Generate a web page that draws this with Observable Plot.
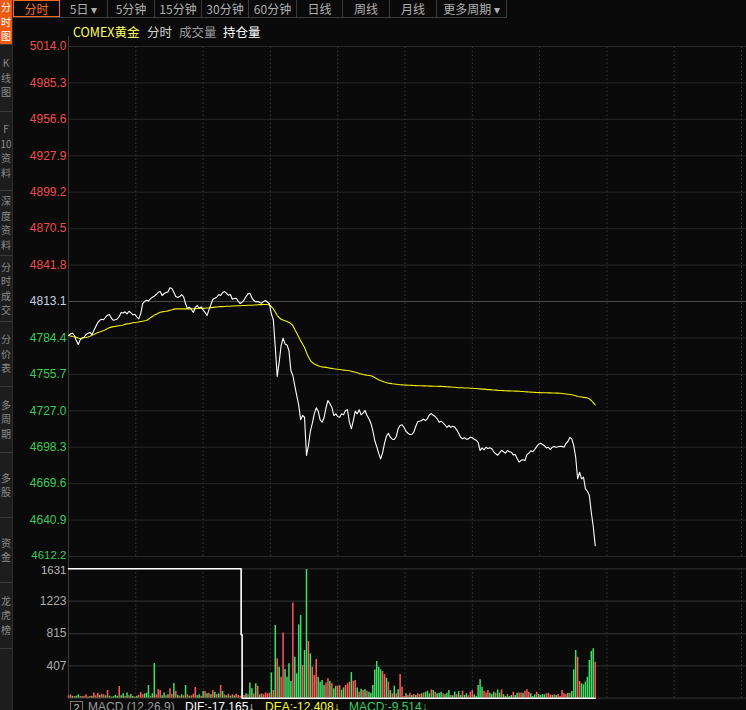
<!DOCTYPE html>
<html><head><meta charset="utf-8">
<script src="https://cdn.jsdelivr.net/npm/d3@7"></script>
<script src="https://cdn.jsdelivr.net/npm/@observablehq/plot@0.6"></script>
<style>
html,body{margin:0;padding:0;background:#0a0a0a;}
#root{position:relative;width:746px;height:710px;overflow:hidden;background:#0a0a0a;font-family:"Noto Sans CJK SC","Liberation Sans",sans-serif;}
#root svg{position:absolute;left:0;top:0;}
.side{position:absolute;left:0;top:0;width:12px;height:710px;background:#1d1d1d;border-right:1px solid #2c2c2c;overflow:hidden;}
.stab{position:absolute;left:0;width:12px;overflow:hidden;border-bottom:1px solid #3a3a3a;color:#8a8a8a;font-size:10px;display:flex;flex-direction:column;align-items:flex-start;justify-content:center;}
.stab div{line-height:14.5px;height:14.5px;margin-left:0;width:12px;text-align:center;overflow:hidden;}
.stab.on{background:#ee5a0e;color:#fff;}
.tab{position:absolute;top:0;height:17px;line-height:17px;font-size:12px;color:#b0b0b0;text-align:center;border-right:1px solid #3a3a3a;box-sizing:border-box;white-space:nowrap;}
.tab.on{color:#ff6a1a;border:1px solid #ff6a1a;line-height:15px;}
.tbline{position:absolute;left:13px;top:17px;width:494px;height:1px;background:#3a3a3a;}
.row2{position:absolute;top:23px;font-size:12.5px;line-height:17px;white-space:nowrap;}
.bot{position:absolute;top:700px;font-family:"Liberation Sans",sans-serif;font-size:12px;line-height:14px;white-space:nowrap;}
.box{position:absolute;left:70px;top:701px;width:11px;height:12px;border:1px solid #777;color:#bbb;font-family:"Liberation Sans",sans-serif;font-size:11px;line-height:12px;text-align:center;}
</style></head><body>
<div id="root"></div>
<script>
// ---------------- data ----------------
const stepMin = 4;           // minutes between samples
const sessionMinutes = 1380; // full COMEX session
const prevClose = 4813.1;

const price = [
4786.3,4787.6,4788.1,4786.3,4782.3,4779.2,4782.9,4784.5,4784.9,4787.1,
4788.1,4788.7,4787.1,4790.2,4793.4,4796.5,4798.3,4799.1,4798.7,4800.7,
4802.3,4802.8,4799.9,4798.3,4798.7,4799.4,4801.3,4804.4,4804.0,4805.0,
4803.4,4805.4,4804.2,4802.6,4803.0,4801.0,4799.4,4803.4,4811.3,4813.1,
4814.1,4813.6,4815.2,4816.5,4817.3,4818.6,4820.4,4820.9,4817.8,4819.4,
4820.2,4820.7,4823.9,4823.3,4820.4,4817.0,4816.2,4817.0,4818.4,4817.0,
4811.3,4807.6,4808.6,4806.8,4804.4,4808.6,4809.9,4807.8,4808.9,4806.5,
4804.6,4802.0,4806.5,4810.7,4814.9,4815.7,4816.5,4818.6,4817.8,4820.2,
4820.9,4819.6,4818.0,4818.6,4814.9,4815.4,4815.7,4813.3,4811.5,4812.5,
4814.4,4816.8,4819.1,4819.6,4816.0,4813.9,4812.8,4813.1,4812.3,4811.7,
4813.1,4813.9,4812.5,4811.3,4803.4,4798.7,4777.1,4754.0,4765.3,4778.4,
4784.2,4779.7,4778.9,4774.5,4758.7,4754.8,4746.9,4739.0,4731.7,4719.9,
4723.3,4721.9,4691.8,4699.6,4710.9,4717.2,4724.6,4729.3,4726.7,4719.9,
4718.0,4721.5,4729.3,4735.1,4732.5,4729.8,4723.3,4724.6,4722.5,4721.9,
4724.6,4723.8,4727.2,4727.8,4718.0,4712.8,4719.3,4726.7,4724.6,4727.8,
4723.8,4725.1,4727.2,4723.5,4720.7,4717.2,4711.4,4703.6,4698.8,4693.6,
4689.1,4693.9,4701.4,4707.0,4709.3,4706.2,4704.6,4704.4,4706.7,4713.0,
4715.4,4716.0,4713.8,4710.9,4709.3,4708.3,4708.5,4710.1,4714.6,4718.3,
4718.8,4719.4,4720.3,4719.3,4720.9,4723.8,4724.8,4723.5,4722.5,4720.7,
4718.0,4718.8,4717.5,4715.9,4714.0,4715.4,4714.0,4714.8,4714.0,4712.0,
4709.3,4706.2,4704.9,4705.7,4704.6,4704.9,4706.2,4705.8,4704.6,4703.8,
4702.2,4695.7,4697.8,4696.2,4698.3,4697.3,4697.8,4697.1,4694.7,4693.1,
4692.0,4693.9,4695.9,4694.7,4693.6,4695.7,4694.7,4694.4,4692.3,4692.5,
4689.4,4686.5,4688.0,4688.4,4687.8,4692.5,4693.6,4695.5,4694.7,4696.5,
4698.8,4700.7,4701.4,4700.4,4699.4,4697.8,4698.2,4696.5,4698.3,4698.8,
4698.3,4698.6,4699.1,4698.8,4698.3,4701.2,4702.8,4705.9,4704.9,4699.6,
4690.4,4673.4,4678.6,4673.4,4674.7,4665.5,4663.6,4660.2,4647.1,4635.8,4620.8
];

const avgPrice = [
4786.3,4785.9,4785.5,4785.3,4785.0,4784.3,4783.8,4784.1,4784.5,4784.8,
4785.2,4785.8,4786.6,4787.1,4787.8,4788.6,4789.1,4789.7,4790.2,4790.9,
4791.9,4792.5,4792.9,4793.3,4793.5,4793.8,4794.0,4794.2,4794.6,4795.1,
4795.5,4795.7,4796.0,4796.3,4796.5,4796.7,4797.0,4797.3,4797.6,4797.9,
4798.1,4799.1,4800.3,4801.3,4802.4,4803.0,4803.8,4804.6,4804.9,4805.2,
4805.4,4805.7,4806.2,4806.6,4807.1,4807.3,4807.3,4807.3,4807.3,4807.3,
4807.3,4807.3,4807.3,4807.4,4807.4,4807.5,4807.6,4807.6,4807.6,4807.7,
4807.8,4808.0,4808.1,4808.3,4808.5,4808.7,4808.8,4809.0,4809.1,4809.1,
4809.2,4809.3,4809.4,4809.4,4809.5,4809.6,4809.7,4809.8,4809.8,4809.9,
4809.9,4810.0,4810.1,4810.2,4810.2,4810.3,4810.4,4810.5,4810.6,4810.6,
4810.7,4810.7,4810.7,4810.3,4809.1,4807.3,4804.8,4802.0,4800.5,4799.0,
4798.5,4797.9,4797.3,4796.5,4795.7,4794.2,4791.0,4788.3,4785.1,4782.1,
4779.6,4776.8,4772.9,4769.3,4766.6,4765.0,4763.8,4763.1,4762.4,4761.9,
4761.6,4761.4,4761.2,4760.9,4760.6,4760.4,4760.1,4759.9,4759.7,4759.5,
4759.3,4759.0,4758.9,4758.7,4758.5,4758.1,4757.7,4757.3,4756.9,4756.3,
4756.0,4755.6,4755.3,4755.0,4754.8,4754.6,4754.0,4753.2,4752.3,4751.4,
4750.8,4750.2,4749.6,4749.1,4748.8,4748.6,4748.3,4748.1,4747.9,4747.7,
4747.5,4747.4,4747.3,4747.2,4747.1,4747.1,4747.0,4746.9,4746.8,4746.7,
4746.7,4746.7,4746.6,4746.6,4746.5,4746.4,4746.4,4746.3,4746.3,4746.3,
4746.2,4746.2,4746.1,4746.0,4745.9,4745.8,4745.7,4745.6,4745.5,4745.4,
4745.2,4745.2,4745.1,4745.0,4744.9,4744.9,4744.8,4744.7,4744.6,4744.5,
4744.4,4744.3,4744.1,4744.1,4743.9,4743.7,4743.7,4743.5,4743.4,4743.3,
4743.1,4743.0,4743.0,4742.9,4742.8,4742.7,4742.7,4742.6,4742.6,4742.5,
4742.5,4742.4,4742.2,4742.2,4742.0,4741.9,4741.8,4741.7,4741.6,4741.5,
4741.4,4741.3,4741.3,4741.2,4741.2,4741.2,4741.1,4741.1,4741.0,4741.0,
4740.9,4740.9,4740.8,4740.6,4740.4,4740.2,4740.0,4739.8,4739.6,4739.3,
4738.9,4738.2,4738.0,4737.8,4737.6,4737.4,4737.1,4736.4,4735.1,4733.4,4731.7
];

const volume = [
30,42,25,20,25,42,20,18,25,42,
15,20,25,67,30,63,35,50,42,30,
97,25,15,20,35,25,147,30,55,20,
67,30,46,20,15,25,35,71,42,55,
63,160,25,55,437,42,105,97,30,67,
30,42,118,46,185,84,35,25,42,30,
160,42,25,30,50,134,30,42,25,84,
84,55,63,42,97,76,42,55,160,84,
42,30,50,25,42,30,50,35,25,109,
34,55,42,193,118,55,181,151,42,55,
42,67,55,63,319,97,916,496,391,265,
823,361,265,433,210,1201,517,307,924,1042,
412,601,1621,714,559,391,286,487,265,202,
223,160,193,244,210,181,120,150,151,160,
100,130,160,181,202,323,214,223,130,76,
113,97,105,88,76,63,160,357,462,391,
357,336,298,252,202,97,55,151,55,105,
298,139,21,55,35,63,35,46,35,55,
46,55,63,76,88,55,105,97,76,55,
63,76,55,42,63,97,35,30,76,46,
84,35,88,35,55,30,76,97,42,21,
160,231,139,88,67,97,63,46,76,63,
105,63,105,46,21,46,21,35,76,35,
63,67,67,63,88,105,76,55,21,42,
76,46,35,46,42,55,63,42,35,42,
35,46,21,97,55,46,63,63,84,357,
601,517,210,181,168,202,265,475,590,622,454
];

// r = up (red), g = down (green)
const barDir = (
"rrgrggrgrr"+"grgrrrgrrg"+"rgrgggrggr"+"grggrgrrrg"+"ggrggrrrgg"+
"rgrrgrgrgr"+"grgrrrggrg"+"rgrgrgrgrg"+"rgrgrgrrrg"+"rgrggrgrgr"+
"rrrrgrgrgr"+"rggggrgggg"+"rggrgrrrgg"+"ggrrgrggrr"+"ggrrrgrrgr"+
"grgrgggggg"+"grrgrgrgrg"+"rrrgrrgrgr"+"rgrgggrgrg"+"ggrgggrggr"+
"ggrggrrrgg"+"gggrrrgggr"+"ggrggrggrg"+"grrgrrrggg"+"rggggrrrgr"+
"grrrrrgrgg"+"grrgggggggr").split("");

// open-interest line (volume pane)
const oiTime  = [0, 354, 356, 1080];
const oiValue = [1631, 800, 0, 0];

const priceTicksUp   = [5014.0, 4985.3, 4956.6, 4927.9, 4899.2, 4870.5, 4841.8];
const priceTickMid   = [4813.1];
const priceTicksDown = [4784.4, 4755.7, 4727.0, 4698.3, 4669.6, 4640.9, 4612.2];
const volTicks = [1631, 1223, 815, 407];
const gridTimes = [138, 276, 414, 552, 690, 828, 966, 1104, 1242, 1380];

const toolbarTabs = ["分时","5日 ▾","5分钟","15分钟","30分钟","60分钟","日线","周线","月线","更多周期 ▾"];
const sideTabs = [["分","时","图"],["K","线","图"],["F","10","资","料"],["深","度","资","料"],["分","时","成","交"],["分","价","表"],["多","周","期"],["多","股"],["资","金"],["龙","虎","榜"]];

// ---------------- build ----------------
const rows = price.map((p, i) => ({t: i * stepMin, p, a: avgPrice[i], v: volume[i], dir: barDir[i]}));
const oiRows = oiTime.map((t, i) => ({t, v: oiValue[i]}));
const root = document.getElementById("root");

const xScale = {domain: [0, sessionMinutes], range: [68, 741], axis: null};
const svgStyle = {background: "transparent", overflow: "visible", fontFamily: "Liberation Sans, sans-serif", fontSize: "12px"};
const fmt = d => d.toFixed(1);
const lblFont = "Liberation Sans, sans-serif";
const lastDown = priceTicksDown[priceTicksDown.length - 1];

const main = Plot.plot({
  width: 746, height: 560, style: svgStyle,
  x: xScale,
  y: {domain: [4612.2, 5014.0], range: [556, 46], axis: null},
  marks: [
    Plot.ruleY(priceTicksUp.concat(priceTicksDown), {x1: 0, x2: 1392, stroke: "#272727", strokeWidth: 1}),
    Plot.ruleY(priceTickMid, {x1: 0, x2: 1392, stroke: "#4c4c4c", strokeWidth: 1.2}),
    Plot.ruleX(gridTimes, {y1: 4612.2, y2: 5014.0, stroke: "#3a3a3a", strokeDasharray: "1.5,2.5"}),
    Plot.ruleX([0], {y1: 4603, y2: 5022, stroke: "#3c3c3c"}),
    Plot.line(rows, {x: "t", y: "a", stroke: "#f5f000", strokeWidth: 1.1}),
    Plot.line(rows, {x: "t", y: "p", stroke: "#ffffff", strokeWidth: 1.1}),
    Plot.text(priceTicksUp, {x: () => 0, y: d => d, text: fmt, textAnchor: "end", dx: -2, fill: "#ee4c4c", fontSize: 12, fontFamily: lblFont}),
    Plot.text(priceTickMid, {x: () => 0, y: d => d, text: fmt, textAnchor: "end", dx: -2, fill: "#c6cfe2", fontSize: 12, fontFamily: lblFont}),
    Plot.text(priceTicksDown.filter(d => d !== lastDown), {x: () => 0, y: d => d, text: fmt, textAnchor: "end", dx: -2, fill: "#3ccb5c", fontSize: 12, fontFamily: lblFont}),
    Plot.text([lastDown], {x: () => 0, y: d => d, text: fmt, textAnchor: "end", dx: -2, dy: -1, fill: "#3ccb5c", fontSize: 11.5, fontFamily: lblFont})
  ]
});
root.appendChild(main);

const vol = Plot.plot({
  width: 746, height: 710, style: svgStyle,
  x: xScale,
  y: {domain: [0, 1631], range: [697.7, 568.3], axis: null},
  marks: [
    Plot.ruleY(volTicks.concat([0]), {x1: 0, x2: 1392, stroke: "#2c2c2c", strokeWidth: 1.2}),
    Plot.ruleX(gridTimes, {y1: 0, y2: 1631, stroke: "#3a3a3a", strokeDasharray: "1.5,2.5"}),
    Plot.ruleX([0], {y1: -20, y2: 1720, stroke: "#3c3c3c"}),
    Plot.ruleX(rows.filter(d => d.dir === "r"), {x: "t", y1: 0, y2: "v", stroke: "#ff5a5a", strokeWidth: 1.5}),
    Plot.ruleX(rows.filter(d => d.dir === "g"), {x: "t", y1: 0, y2: "v", stroke: "#3fe063", strokeWidth: 1.5}),
    Plot.line(oiRows, {x: "t", y: "v", stroke: "#ffffff", strokeWidth: 1.6, curve: "step-after"}),
    Plot.text(volTicks.slice(1), {x: () => 0, y: d => d, text: d => String(d), textAnchor: "end", dx: -2, fill: "#ababab", fontSize: 12, fontFamily: lblFont}),
    Plot.text(volTicks.slice(0, 1), {x: () => 0, y: d => d, text: d => String(d), textAnchor: "end", dx: -2, dy: 1.5, fill: "#b8b8b8", fontSize: 11.5, fontFamily: lblFont})
  ]
});
root.appendChild(vol);

// ---------- chrome: sidebar ----------
const side = document.createElement("div");
side.className = "side";
const sideEdges = [0, 45, 112, 191, 256, 322, 387, 453, 518, 583, 649];
sideTabs.forEach((chars, i) => {
  const d = document.createElement("div");
  d.className = "stab" + (i === 0 ? " on" : "");
  d.style.top = sideEdges[i] + "px";
  d.style.height = (sideEdges[i + 1] - sideEdges[i] - 1) + "px";
  chars.forEach(c => {
    const s = document.createElement("div");
    s.textContent = c;
    d.appendChild(s);
  });
  side.appendChild(d);
});
root.appendChild(side);

// ---------- toolbar ----------
const tabEdges = [13, 60, 108, 155, 202, 249, 297, 343, 390, 437, 507];
toolbarTabs.forEach((t, i) => {
  const d = document.createElement("div");
  d.className = "tab" + (i === 0 ? " on" : "");
  d.style.left = tabEdges[i] + "px";
  d.style.width = (tabEdges[i + 1] - tabEdges[i]) + "px";
  d.textContent = t;
  root.appendChild(d);
});
const tl = document.createElement("div"); tl.className = "tbline"; root.appendChild(tl);

// ---------- legend row ----------
const legendItems = [["COMEX黄金", "#ffff5a", 73], ["分时", "#d2d2d2", 147], ["成交量", "#9a9a9a", 179], ["持仓量", "#ffffff", 223]];
legendItems.forEach(([t, c, x]) => {
  const d = document.createElement("div");
  d.className = "row2"; d.style.left = x + "px"; d.style.color = c; d.textContent = t;
  root.appendChild(d);
});

// ---------- bottom indicator strip ----------
const box = document.createElement("div"); box.className = "box"; box.textContent = "2"; root.appendChild(box);
const botItems = [["MACD (12,26,9)", "#9a9a9a", 88], ["DIF:-17.165↓", "#ffffff", 185], ["DEA:-12.408↓", "#ffff33", 265], ["MACD:-9.514↓", "#3ccb5c", 349]];
botItems.forEach(([t, c, x]) => {
  const d = document.createElement("div");
  d.className = "bot"; d.style.left = x + "px"; d.style.color = c; d.textContent = t;
  root.appendChild(d);
});
</script>
</body></html>
